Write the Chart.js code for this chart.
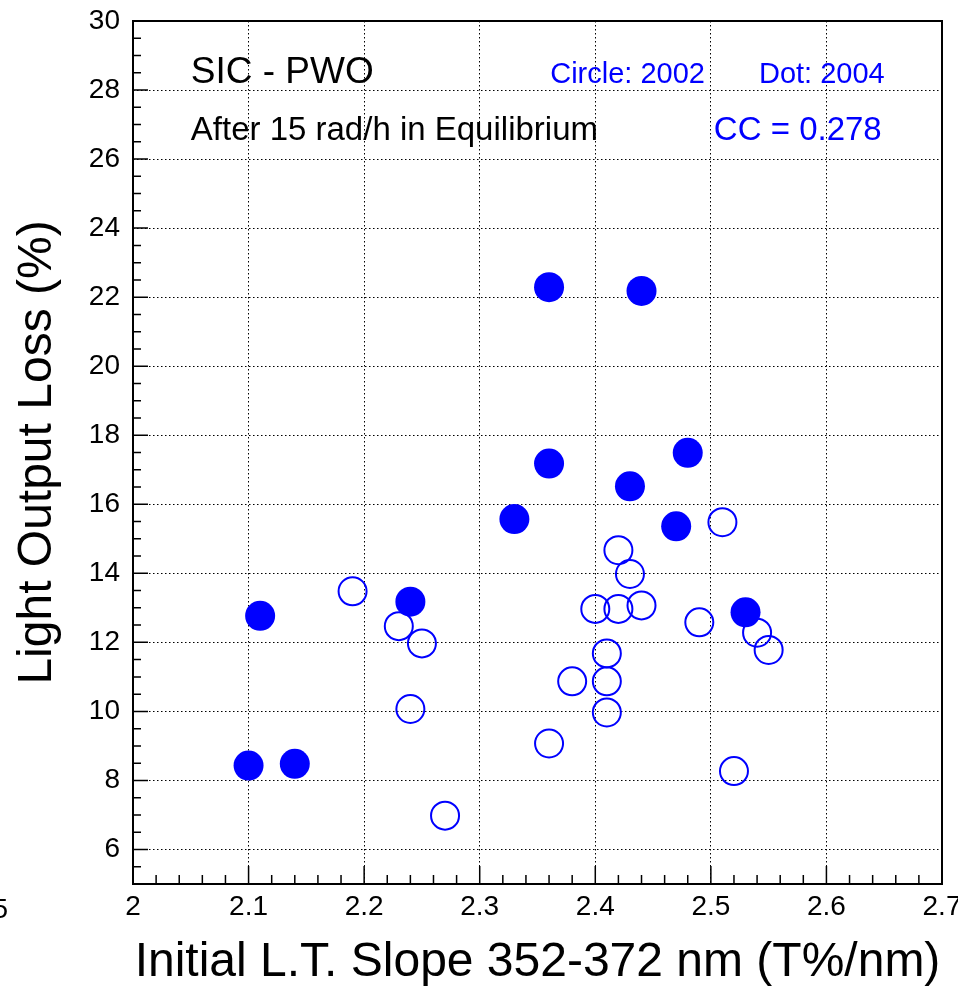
<!DOCTYPE html>
<html>
<head>
<meta charset="utf-8">
<script src="https://cdn.jsdelivr.net/npm/chart.js@4.4.1/dist/chart.umd.min.js"></script>
<style>
  html, body { margin: 0; padding: 0; background: #fff; }
  #wrap { width: 958px; height: 986px; }
</style>
</head>
<body>
<div id="wrap"><canvas id="scatterChart"></canvas></div>
<script>
// 2002 crystals (open circles): initial slope vs light output loss
const slope2002 = [2.19, 2.23, 2.25, 2.24, 2.27, 2.36, 2.38, 2.41, 2.41, 2.41, 2.40, 2.42, 2.44, 2.43, 2.42, 2.51, 2.49, 2.54, 2.55, 2.52];
const loss2002  = [13.48, 12.47, 11.97, 10.07, 6.98, 9.07, 10.87, 11.68, 10.87, 9.97, 12.97, 12.97, 13.07, 13.98, 14.67, 15.48, 12.58, 12.28, 11.78, 8.27];

// 2004 crystals (filled dots)
const slope2004 = [2.36, 2.44, 2.36, 2.48, 2.43, 2.33, 2.47, 2.24, 2.11, 2.53, 2.10, 2.14];
const loss2004  = [22.29, 22.18, 17.18, 17.49, 16.52, 15.57, 15.36, 13.18, 12.77, 12.87, 8.43, 8.48];

// tick labels
const xTicks = [2, 2.1, 2.2, 2.3, 2.4, 2.5, 2.6, 2.7];
const xTickLabels = ['2', '2.1', '2.2', '2.3', '2.4', '2.5', '2.6', '2.7'];
const yTicks = [6, 8, 10, 12, 14, 16, 18, 20, 22, 24, 26, 28, 30];
const yTickLabels = ['6', '8', '10', '12', '14', '16', '18', '20', '22', '24', '26', '28', '30'];

// text written inside the frame (data coordinates)
const notes = [
  { text: 'SIC - PWO', x: 2.05, y: 28.2, size: 37, color: '#000' },
  { text: 'After 15 rad/h in Equilibrium', x: 2.05, y: 26.55, size: 33, color: '#000' },
  { text: 'Circle: 2002', x: 2.361, y: 28.2, size: 29, color: '#0000ff' },
  { text: 'Dot: 2004', x: 2.5416, y: 28.2, size: 29, color: '#0000ff' },
  { text: 'CC = 0.278', x: 2.5026, y: 26.55, size: 33, color: '#0000ff' }
];

const FONT = '"Liberation Sans", Arial, Helvetica, sans-serif';
Chart.defaults.font.family = FONT;
Chart.defaults.color = '#000';

const toPoints = (xs, ys) => xs.map((v, i) => ({ x: v, y: ys[i] }));

// ROOT style frame, inner tick marks and labels
const rootFrame = {
  id: 'rootFrame',
  afterDraw(chart) {
    const { ctx, chartArea: a, scales: { x, y } } = chart;
    ctx.save();
    ctx.strokeStyle = '#000';
    ctx.lineWidth = 1.5;
    ctx.beginPath();
    for (let i = 0; i <= 35; i++) {
      const px = x.getPixelForValue(2 + i * 0.02);
      const len = i % 5 === 0 ? 18 : 9;
      ctx.moveTo(px, a.bottom);
      ctx.lineTo(px, a.bottom - len);
    }
    for (let i = 0; i <= 50; i++) {
      const py = y.getPixelForValue(5 + i * 0.5);
      const len = i % 4 === 2 ? 15 : 8;
      ctx.moveTo(a.left, py);
      ctx.lineTo(a.left + len, py);
    }
    ctx.stroke();
    ctx.lineWidth = 2;
    ctx.strokeRect(a.left, a.top, a.right - a.left, a.bottom - a.top);

    ctx.textAlign = 'left';
    ctx.textBaseline = 'alphabetic';
    notes.forEach(n => {
      ctx.font = n.size + 'px ' + FONT;
      ctx.fillStyle = n.color;
      ctx.fillText(n.text, x.getPixelForValue(n.x), y.getPixelForValue(n.y));
    });

    // stray label piece at the lower left edge
    ctx.font = '28px ' + FONT;
    ctx.fillStyle = '#000';
    ctx.textAlign = 'right';
    ctx.fillText('5', 8, 918);
    ctx.restore();
  }
};

const ctx = document.getElementById('scatterChart').getContext('2d');
const scatterChart = new Chart(ctx, {
  type: 'scatter',
  data: {
    datasets: [
      {
        label: 'Dot: 2004',
        data: toPoints(slope2004, loss2004),
        pointRadius: 15,
        pointBorderWidth: 0,
        backgroundColor: '#0000ff',
        borderColor: '#0000ff'
      },
      {
        label: 'Circle: 2002',
        data: toPoints(slope2002, loss2002),
        pointRadius: 14,
        pointBorderWidth: 2,
        backgroundColor: 'rgba(0,0,0,0)',
        borderColor: '#0000ff'
      }
    ]
  },
  options: {
    responsive: true,
    maintainAspectRatio: false,
    animation: false,
    events: [],
    layout: { padding: { top: 21, right: 16, left: 0, bottom: 0 } },
    plugins: { legend: { display: false }, tooltip: { enabled: false } },
    scales: {
      x: {
        type: 'linear',
        min: 2,
        max: 2.7,
        afterBuildTicks: s => { s.ticks = xTicks.map(v => ({ value: v })); },
        afterFit: s => { s.height = 102; s.paddingLeft = 0; s.paddingRight = 0; },
        ticks: {
          autoSkip: false,
          maxRotation: 0,
          padding: 6,
          font: { size: 28 },
          color: '#000',
          callback: (v, i) => xTickLabels[i]
        },
        grid: { color: '#000', lineWidth: 1, drawTicks: false },
        border: { display: false, dash: [1.5, 2.5] },
        title: {
          display: true,
          text: 'Initial L.T. Slope 352-372 nm (T%/nm)',
          font: { size: 48, lineHeight: 1 },
          color: '#000',
          padding: { top: 0, bottom: -1 }
        }
      },
      y: {
        type: 'linear',
        min: 5,
        max: 30,
        afterBuildTicks: s => { s.ticks = yTicks.map(v => ({ value: v })); },
        afterFit: s => { s.width = 133; s.paddingTop = 0; s.paddingBottom = 0; },
        ticks: {
          autoSkip: false,
          padding: 13,
          font: { size: 28 },
          color: '#000',
          callback: (v, i) => yTickLabels[i]
        },
        grid: { color: '#000', lineWidth: 1, drawTicks: false },
        border: { display: false, dash: [1.5, 2.5] },
        title: {
          display: true,
          text: 'Light Output Loss (%)',
          font: { size: 48, lineHeight: 1 },
          color: '#000',
          padding: { top: 14, bottom: 0 }
        }
      }
    }
  },
  plugins: [rootFrame]
});
</script>
</body>
</html>
